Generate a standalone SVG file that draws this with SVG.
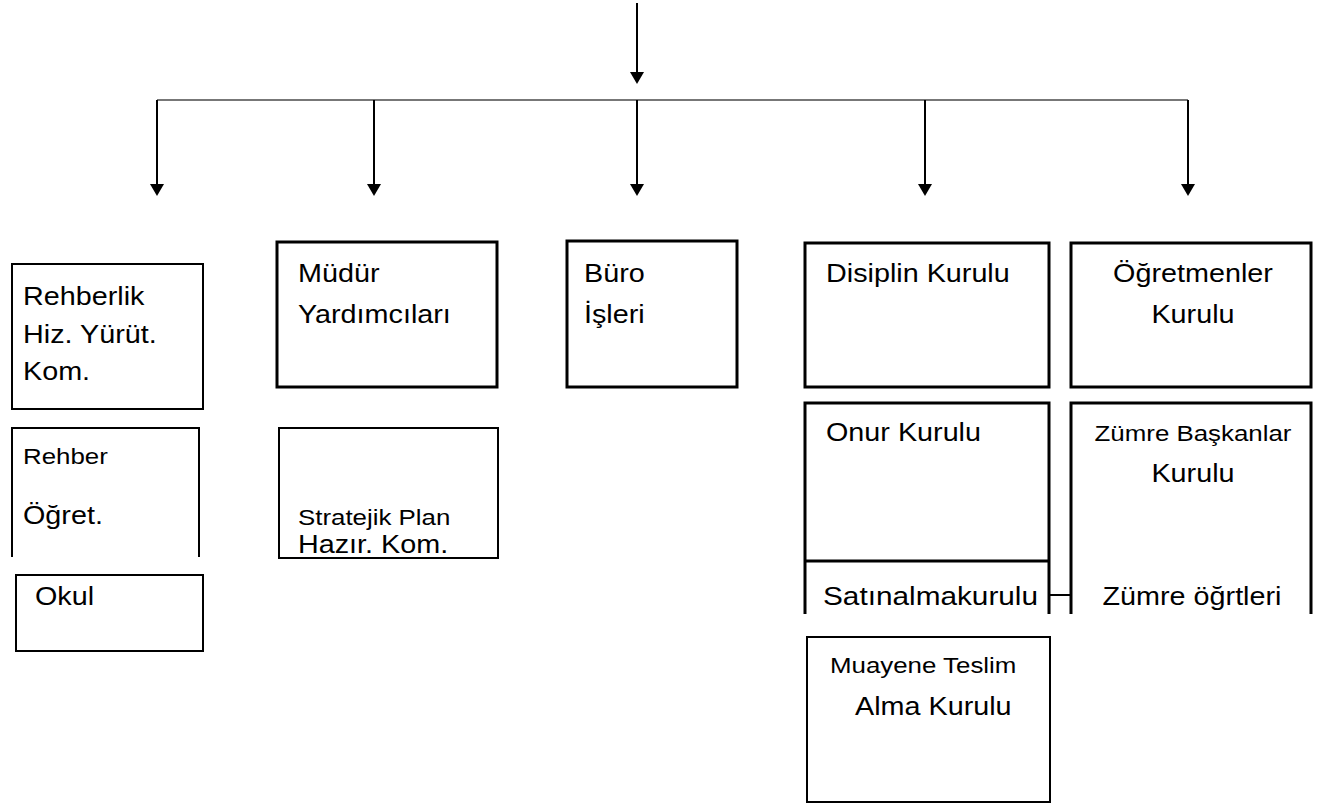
<svg xmlns="http://www.w3.org/2000/svg" width="1324" height="805" viewBox="0 0 1324 805">
<defs>
<style>
.b{fill:none;stroke:#000;stroke-width:2}
.bt{fill:none;stroke:#000;stroke-width:3}
.t{font-family:"Liberation Sans",Arial,sans-serif;font-size:25px;fill:#000}
.s{font-family:"Liberation Sans",Arial,sans-serif;font-size:22.5px;fill:#000}
.m{text-anchor:middle}
.c{stroke:#000;stroke-width:2;fill:none}
.h{fill:#000}
</style>
</defs>
<rect width="1324" height="805" fill="#fff"/>
<g id="connectors">
<line class="c" x1="637" y1="3" x2="637" y2="73"/>
<path class="h" d="M630,72 L644,72 L637,84 Z"/>
<line x1="157" y1="100" x2="1188" y2="100" stroke="#777" stroke-width="2"/>
<line class="c" x1="157" y1="100" x2="157" y2="185"/>
<path class="h" d="M150,184 L164,184 L157,196 Z"/>
<line class="c" x1="374" y1="100" x2="374" y2="185"/>
<path class="h" d="M367,184 L381,184 L374,196 Z"/>
<line class="c" x1="637" y1="100" x2="637" y2="185"/>
<path class="h" d="M630,184 L644,184 L637,196 Z"/>
<line class="c" x1="925" y1="100" x2="925" y2="185"/>
<path class="h" d="M918,184 L932,184 L925,196 Z"/>
<line class="c" x1="1188" y1="100" x2="1188" y2="185"/>
<path class="h" d="M1181,184 L1195,184 L1188,196 Z"/>
<line class="c" x1="1049" y1="595" x2="1071" y2="595"/>
</g>
<g id="rehberlik">
<rect class="b" x="12" y="264" width="191" height="145"/>
<text class="t" transform="translate(23,305) scale(1.15,1)">Rehberlik</text>
<text class="t" transform="translate(23,343) scale(1.15,1)">Hiz. Yürüt.</text>
<text class="t" transform="translate(23,380) scale(1.15,1)">Kom.</text>
</g>
<g id="rehber">
<path class="b" d="M12,557 L12,428 L199,428 L199,557"/>
<text class="s" transform="translate(23,464) scale(1.15,1)">Rehber</text>
<text class="t" transform="translate(23,524) scale(1.15,1)">Öğret.</text>
</g>
<g id="okul">
<rect class="b" x="16" y="575" width="187" height="76"/>
<text class="t" transform="translate(35,605) scale(1.15,1)">Okul</text>
</g>
<g id="mudur">
<rect class="bt" x="277" y="242" width="220" height="145"/>
<text class="t" transform="translate(298,282) scale(1.15,1)">Müdür</text>
<text class="t" transform="translate(298,323) scale(1.15,1)">Yardımcıları</text>
</g>
<g id="stratejik">
<rect class="b" x="279" y="428" width="219" height="130"/>
<text class="s" transform="translate(298,525) scale(1.15,1)">Stratejik Plan</text>
<text class="t" transform="translate(298,553) scale(1.15,1)">Hazır. Kom.</text>
</g>
<g id="buro">
<rect class="bt" x="567" y="241" width="170" height="146"/>
<text class="t" transform="translate(584,282) scale(1.15,1)">Büro</text>
<text class="t" transform="translate(584,323) scale(1.15,1)">İşleri</text>
</g>
<g id="disiplin">
<rect class="bt" x="805" y="243" width="244" height="144"/>
<text class="t" transform="translate(826,282) scale(1.15,1)">Disiplin Kurulu</text>
</g>
<g id="ogretmenler">
<rect class="bt" x="1071" y="243" width="240" height="144"/>
<text class="t m" transform="translate(1193,282) scale(1.15,1)">Öğretmenler</text>
<text class="t m" transform="translate(1193,323) scale(1.15,1)">Kurulu</text>
</g>
<g id="onur">
<path class="bt" d="M805,614 L805,403 L1049,403 L1049,614"/>
<line class="bt" x1="805" y1="561" x2="1049" y2="561"/>
<text class="t" transform="translate(826,441) scale(1.15,1)">Onur Kurulu</text>
</g>
<g id="satinalma">
<text class="t" x="823" y="605" textLength="215" lengthAdjust="spacingAndGlyphs">Satınalmakurulu</text>
</g>
<g id="zumre">
<path class="bt" d="M1071,614 L1071,403 L1311,403 L1311,614"/>
<text class="s m" transform="translate(1193,441) scale(1.15,1)">Zümre Başkanlar</text>
<text class="t m" transform="translate(1193,482) scale(1.15,1)">Kurulu</text>
<text class="t m" transform="translate(1192,605) scale(1.15,1)">Zümre öğrtleri</text>
</g>
<g id="muayene">
<rect class="b" x="807" y="637" width="243" height="165"/>
<text class="s" transform="translate(830,673) scale(1.15,1)">Muayene Teslim</text>
<text class="t" transform="translate(855,715) scale(1.15,1)">Alma Kurulu</text>
</g>
</svg>
